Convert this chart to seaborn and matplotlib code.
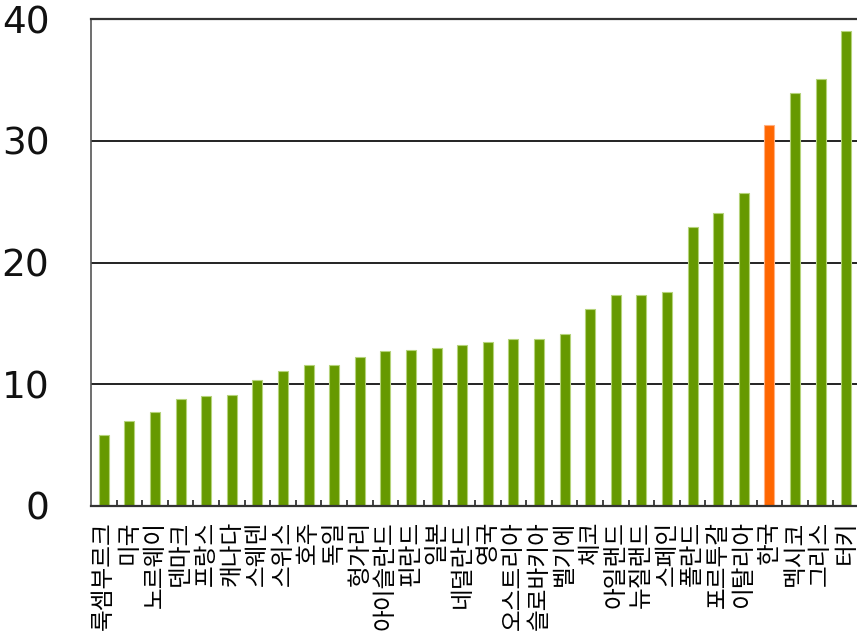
import matplotlib
matplotlib.use("Agg")
import matplotlib.pyplot as plt
import seaborn as sns
import pandas as pd
import numpy as np

countries = ["룩셈부르크", "미국", "노르웨이", "덴마크", "프랑스", "캐나다", "스웨덴", "스위스",
             "호주", "독일", "헝가리", "아이슬란드", "핀란드", "일본", "네덜란드", "영국",
             "오스트리아", "슬로바키아", "벨기에", "체코", "아일랜드", "뉴질랜드", "스페인",
             "폴란드", "포르투갈", "이탈리아", "한국", "멕시코", "그리스", "터키"]
values = [5.8, 7.0, 7.7, 8.75, 9.0, 9.1, 10.35, 11.1, 11.6, 11.6, 12.25, 12.7, 12.8, 13.0,
          13.2, 13.45, 13.7, 13.7, 14.15, 16.15, 17.3, 17.3, 17.6, 22.9, 24.05, 25.7,
          31.3, 33.9, 35.1, 39.0]
highlight = "한국"
yticks = [0, 10, 20, 30, 40]

green = "#669900"
orange = "#ff6600"

sns.set_theme(style="white")
plt.rcParams["font.family"] = ["DejaVu Sans", "Noto Sans CJK KR"]

df = pd.DataFrame({"country": countries, "value": values})
palette = {c: (orange if c == highlight else green) for c in countries}

fig = plt.figure(figsize=(8.57, 6.31), dpi=100)
ax = fig.add_axes([91 / 857, (631 - 505.7) / 631, (857 - 91) / 857, (505.7 - 19.3) / 631])

sns.barplot(data=df, x="country", y="value", hue="country", palette=palette,
            order=countries, hue_order=countries, legend=False, width=0.39,
            saturation=1, ax=ax, edgecolor="none", linewidth=0)

for patch, c in zip(ax.patches, countries):
    patch.set_edgecolor("#ffb080" if c == highlight else "#b5d37a")
    patch.set_linewidth(0.8)

ax.set_xlim(-0.5, 29.42)
ax.set_ylim(0, 40)
ax.set_yticks(yticks)
ax.set_yticklabels([str(t) for t in yticks])
ax.tick_params(axis="y", length=0, pad=30)

ax.set_xticks(range(len(countries)))
ax.set_xticklabels(countries)
ax.tick_params(axis="x", which="major", length=0, pad=11)
ax.set_xticks(np.arange(0.5, len(countries) - 1, 1.0), minor=True)
ax.tick_params(axis="x", which="minor", direction="in", length=4, width=1.2,
               color="#222222", bottom=True)

for lab in ax.get_yticklabels():
    lab.set_fontsize(27)
    lab.set_color("#111111")
for lab in ax.get_xticklabels():
    lab.set_fontsize(17)
    lab.set_rotation(90)
    lab.set_family(["Noto Sans CJK KR"])
    lab.set_color("#000000")
    lab.set_va("top")
    lab.set_ha("center")

ax.set_xlabel("")
ax.set_ylabel("")

ax.yaxis.grid(True, color="#111111", linewidth=1.3)
ax.xaxis.grid(False)
ax.set_axisbelow(True)

ax.spines["right"].set_visible(False)
ax.spines["top"].set_color("#333333")
ax.spines["top"].set_linewidth(1.6)
ax.spines["left"].set_color("#555555")
ax.spines["left"].set_linewidth(1.2)
ax.spines["bottom"].set_color("#333333")
ax.spines["bottom"].set_linewidth(1.6)

fig.savefig("out.png", dpi=100)
